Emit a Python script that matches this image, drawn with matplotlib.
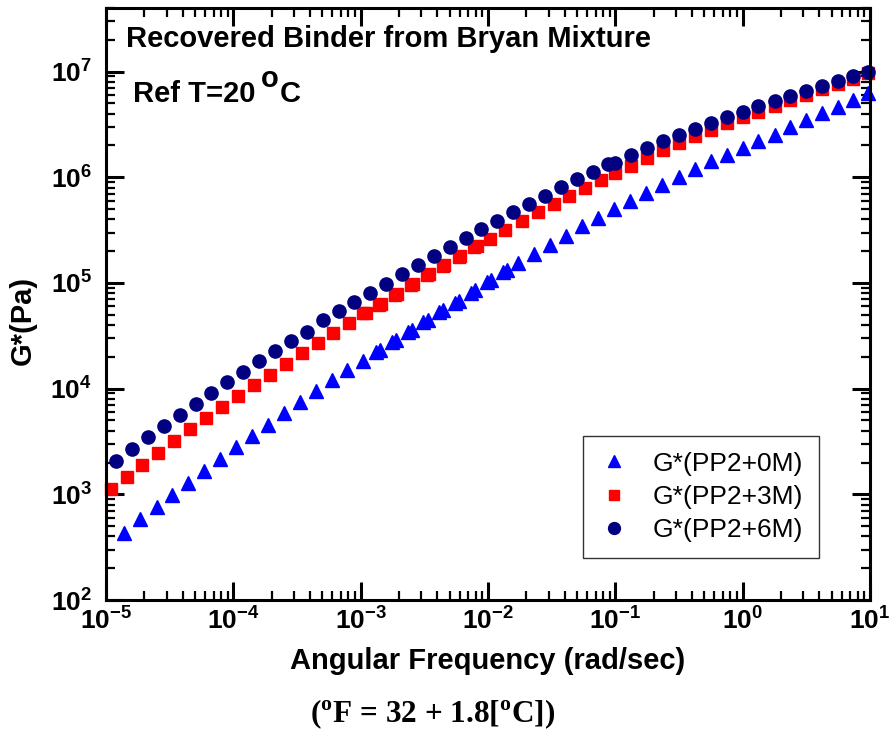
import numpy as np
import matplotlib
matplotlib.use("Agg")
import matplotlib.pyplot as plt
from matplotlib.ticker import LogLocator, NullFormatter, FixedLocator

plt.rcParams['font.family'] = 'Liberation Sans'
plt.rcParams['mathtext.fontset'] = 'custom'
plt.rcParams['mathtext.bf'] = 'Liberation Sans:bold'
plt.rcParams['mathtext.rm'] = 'Liberation Serif:bold'

# G*(PP2+0M) - triangles
freq_0m = [1.39e-5, 1.86e-5, 2.50e-5, 3.30e-5, 4.43e-5, 5.92e-5, 7.91e-5, 1.05e-4,
           1.40e-4, 1.87e-4, 2.49e-4, 3.32e-4, 4.44e-4, 5.93e-4, 7.86e-4, 1.05e-3,
           1.32e-3, 1.42e-3, 1.77e-3, 1.90e-3, 2.34e-3, 2.52e-3, 3.11e-3, 3.37e-3,
           4.15e-3, 4.46e-3, 5.51e-3, 5.96e-3, 7.36e-3, 7.92e-3, 9.84e-3, 1.06e-2,
           1.31e-2, 1.41e-2, 1.73e-2, 2.31e-2, 3.08e-2, 4.11e-2, 5.45e-2, 7.29e-2,
           9.84e-2, 0.131, 0.175, 0.234, 0.315, 0.424, 0.559, 0.751, 1.00, 1.33,
           1.78, 2.36, 3.15, 4.19, 5.60, 7.42, 9.73]
g_0m = [434, 581, 755, 987, 1291, 1677, 2164, 2793,
        3573, 4571, 5863, 7499, 9470, 11980, 14900, 18340,
        22160, 23300, 27930, 28990, 34730, 36050, 42640, 44820,
        53020, 54910, 65340, 67810, 80780, 84920, 1.011e5, 1.065e5,
        1.257e5, 1.334e5, 1.543e5, 1.890e5, 2.300e5, 2.799e5, 3.428e5, 4.118e5,
        5.01e5, 6.00e5, 7.10e5, 8.51e5, 1.002e6, 1.188e6, 1.415e6, 1.637e6, 1.895e6, 2.188e6,
        2.532e6, 2.995e6, 3.458e6, 4.064e6, 4.632e6, 5.43e6, 6.284e6]

# G*(PP2+3M) - squares
freq_3m = [1.09e-5, 1.45e-5, 1.93e-5, 2.58e-5, 3.44e-5, 4.59e-5, 6.14e-5, 8.15e-5,
           1.09e-4, 1.45e-4, 1.94e-4, 2.59e-4, 3.45e-4, 4.60e-4, 6.10e-4, 8.15e-4,
           1.05e-3, 1.10e-3, 1.40e-3, 1.45e-3, 1.85e-3, 1.92e-3, 2.49e-3, 2.57e-3,
           3.30e-3, 3.43e-3, 4.42e-3, 4.54e-3, 5.93e-3, 6.07e-3, 7.82e-3, 8.17e-3,
           1.04e-2, 1.37e-2, 1.84e-2, 2.45e-2, 3.29e-2, 4.36e-2, 5.82e-2, 7.78e-2,
           9.96e-2, 0.133, 0.177, 0.237, 0.315, 0.424, 0.559, 0.751, 1.00, 1.33,
           1.78, 2.36, 3.15, 4.19, 5.60, 7.42, 9.73]
g_3m = [1117, 1462, 1898, 2466, 3184, 4136, 5290, 6725,
        8545, 10790, 13600, 17170, 21590, 26970, 33620, 41730,
        51880, 52500, 61790, 63130, 76800, 78500, 94700, 96800,
        1.178e5, 1.204e5, 1.445e5, 1.477e5, 1.771e5, 1.810e5, 2.169e5, 2.216e5,
        2.610e5, 3.190e5, 3.865e5, 4.672e5, 5.587e5, 6.695e5, 7.97e5, 9.43e5,
        1.106e6, 1.268e6, 1.510e6, 1.797e6, 2.103e6, 2.440e6, 2.823e6, 3.268e6, 3.692e6, 4.181e6,
        4.734e6, 5.43e6, 6.055e6, 6.859e6, 7.697e6, 8.585e6, 9.78e6]

# G*(PP2+6M) - circles
freq_6m = [1.20e-5, 1.59e-5, 2.13e-5, 2.84e-5, 3.79e-5, 5.07e-5, 6.72e-5, 8.97e-5,
           1.20e-4, 1.60e-4, 2.13e-4, 2.84e-4, 3.79e-4, 5.04e-4, 6.73e-4, 8.87e-4,
           1.19e-3, 1.58e-3, 2.11e-3, 2.81e-3, 3.75e-3, 5.01e-3, 6.69e-3, 8.83e-3,
           1.18e-2, 1.57e-2, 2.10e-2, 2.79e-2, 3.73e-2, 4.98e-2, 6.66e-2, 8.83e-2,
           9.96e-2, 0.133, 0.178, 0.237, 0.315, 0.424, 0.559, 0.751, 1.00, 1.33,
           1.78, 2.36, 3.15, 4.19, 5.60, 7.42, 9.73]
g_6m = [2070, 2690, 3475, 4415, 5650, 7225, 9125, 11520,
        14520, 18340, 22650, 28170, 34500, 44150, 53720, 65940,
        79560, 97630, 1.204e5, 1.478e5, 1.782e5, 2.169e5, 2.639e5, 3.225e5,
        3.899e5, 4.672e5, 5.636e5, 6.695e5, 8.024e5, 9.553e5, 1.130e6, 1.345e6,
        1.366e6, 1.612e6, 1.895e6, 2.188e6, 2.505e6, 2.867e6, 3.268e6, 3.692e6, 4.181e6, 4.692e6,
        5.234e6, 5.836e6, 6.566e6, 7.259e6, 8.094e6, 9.027e6, 9.849e6]

x_decades = [-5, -4, -3, -2, -1, 0, 1]
y_decades = [2, 3, 4, 5, 6, 7]

fig = plt.figure(figsize=(8.9, 7.32), dpi=100)
ax = fig.add_axes([106 / 890, 1 - 600 / 732, 764 / 890, 592 / 732])

ax.plot(freq_0m, g_0m, linestyle='none', marker='^', ms=10, color='#0000ff',
        mec='#0000ff', label='G*(PP2+0M)', clip_on=False)
ax.plot(freq_3m, g_3m, linestyle='none', marker='s', ms=8, color='#ff0000',
        mec='#ff0000', label='G*(PP2+3M)', clip_on=False)
ax.plot(freq_6m, g_6m, linestyle='none', marker='o', ms=9.5, color='#000080',
        mec='#000080', label='G*(PP2+6M)', clip_on=False)

ax.set_xscale('log')
ax.set_yscale('log')
ax.set_xlim(1e-5, 10)
ax.set_ylim(1e2, 4e7)

ax.xaxis.set_major_locator(FixedLocator([10.0 ** d for d in x_decades]))
ax.yaxis.set_major_locator(FixedLocator([10.0 ** d for d in y_decades]))
ax.set_xticklabels([r'$\mathbf{10^{%d}}$' % d for d in x_decades])
ax.set_yticklabels([r'$\mathbf{10^{%d}}$' % d for d in y_decades])
ax.xaxis.set_minor_locator(LogLocator(base=10, subs=np.arange(2, 10), numticks=20))
ax.yaxis.set_minor_locator(LogLocator(base=10, subs=np.arange(2, 10), numticks=20))
ax.xaxis.set_minor_formatter(NullFormatter())
ax.yaxis.set_minor_formatter(NullFormatter())

ax.tick_params(which='both', direction='in', top=True, right=True)
ax.tick_params(which='major', length=13, width=2.2, labelsize=19)
ax.tick_params(which='minor', length=6.5, width=1.6)
ax.tick_params(axis='x', which='major', pad=5)
ax.tick_params(axis='y', which='major', pad=10)
for sp in ax.spines.values():
    sp.set_linewidth(2.2)

ax.set_xlabel('Angular Frequency (rad/sec)', fontsize=21, fontweight='bold', labelpad=9)
ax.set_ylabel('G*(Pa)', fontsize=21, fontweight='bold')
ax.yaxis.set_label_coords(37 / 890, 1 - 320 / 732, transform=fig.transFigure)

leg = ax.legend(loc='lower right', bbox_to_anchor=(819 / 890, 1 - 558 / 732),
                bbox_transform=fig.transFigure, fontsize=19, frameon=True,
                fancybox=False, edgecolor='black', handlelength=1.15,
                handletextpad=0.9, borderpad=0.6, borderaxespad=0,
                labelspacing=0.35, markerscale=0.9)
leg.get_frame().set_linewidth(1.0)

fig.text(126 / 890, 1 - 47 / 732, 'Recovered Binder from Bryan Mixture',
         fontsize=21, fontweight='bold', va='baseline', ha='left')
fig.text(133 / 890, 1 - 102 / 732, 'Ref T=20', fontsize=21, fontweight='bold',
         va='baseline', ha='left')
fig.text(261 / 890, 1 - 87 / 732, 'o', fontsize=21, fontweight='bold',
         va='baseline', ha='left')
fig.text(280 / 890, 1 - 102 / 732, 'C', fontsize=21, fontweight='bold',
         va='baseline', ha='left')

fig.text(433 / 890, 1 - 722 / 732, r'($^{\mathrm{o}}$F = 32 + 1.8[$^{\mathrm{o}}$C])',
         fontsize=22.5, fontweight='bold', family='Liberation Serif',
         va='baseline', ha='center')

fig.savefig('out.png', dpi=100)
